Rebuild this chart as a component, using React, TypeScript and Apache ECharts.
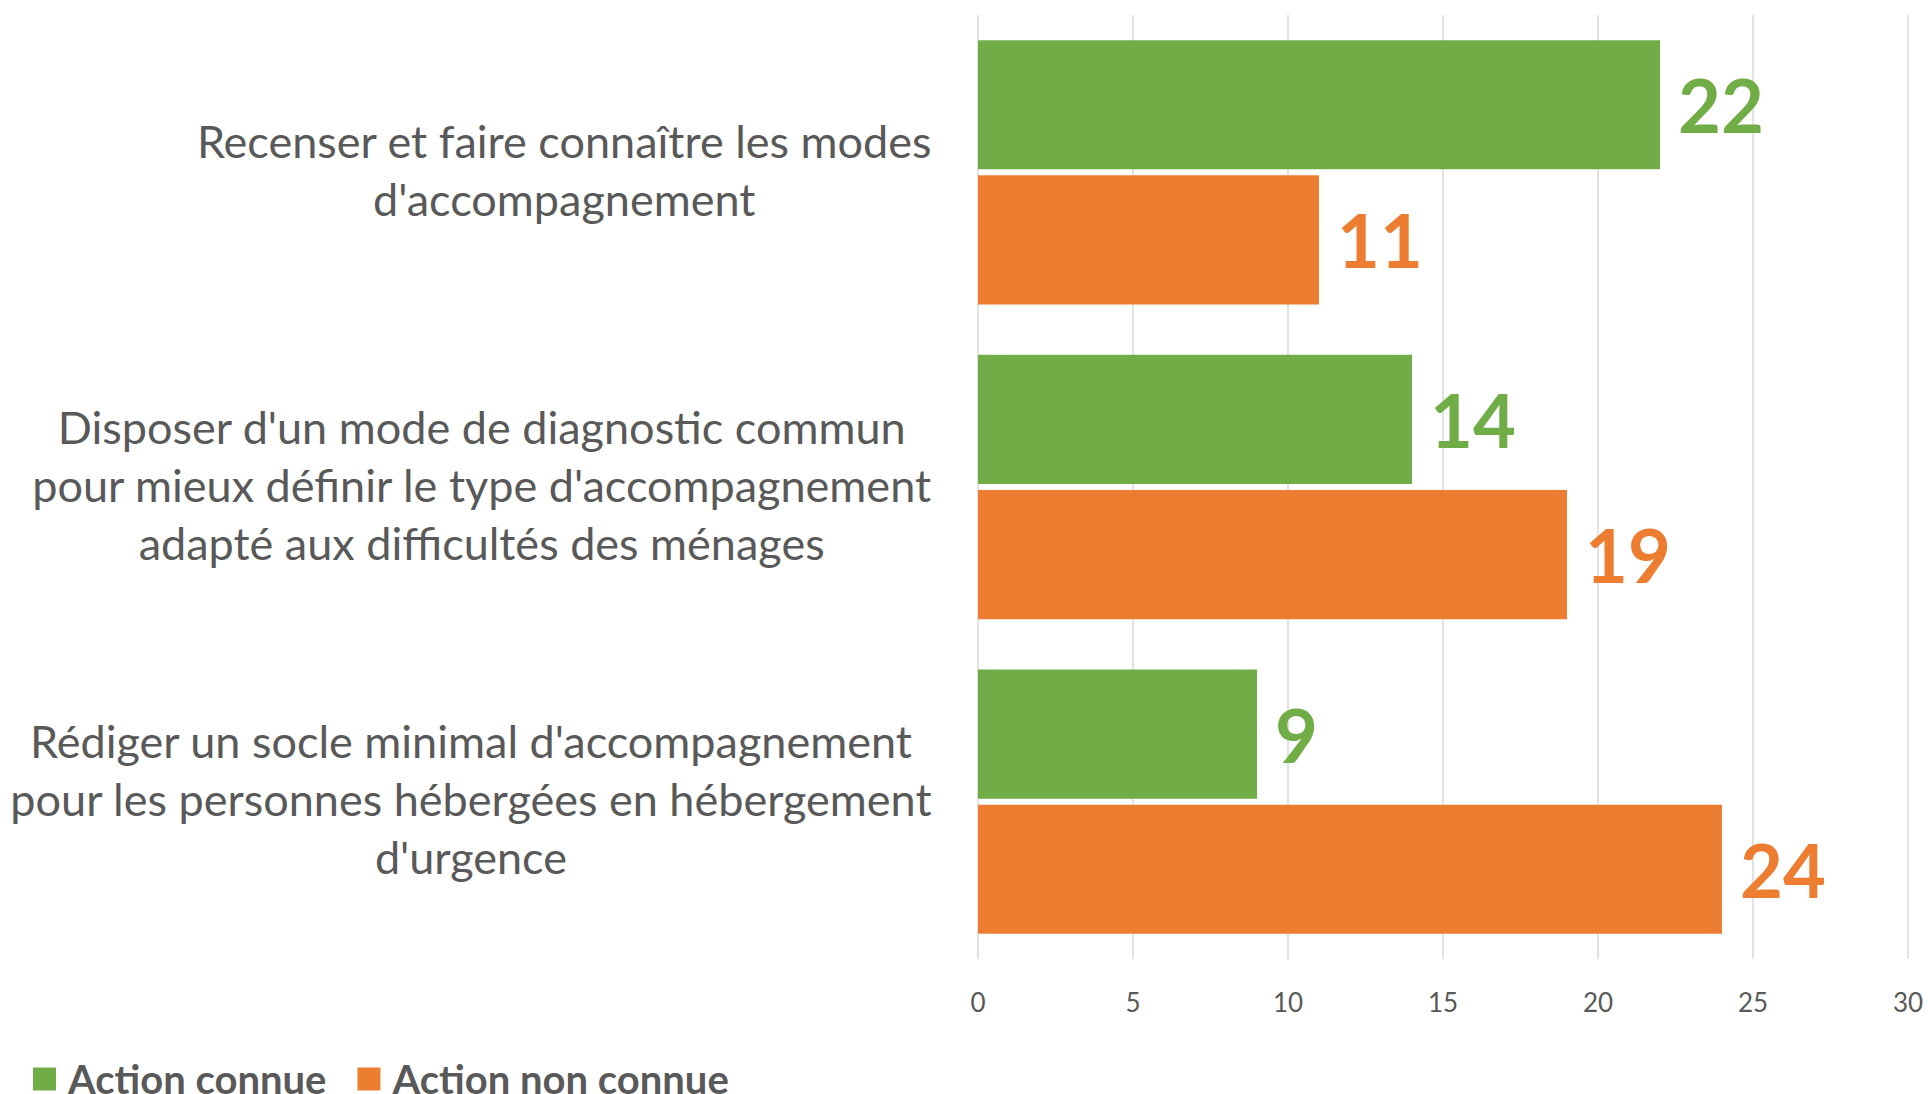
import React, { useEffect, useRef } from "react";
import * as echarts from "echarts";

const categories = [
  "Recenser et faire connaître les modes\nd'accompagnement",
  "Disposer d'un mode de diagnostic commun\npour mieux définir le type d'accompagnement\nadapté aux difficultés des ménages",
  "Rédiger un socle minimal d'accompagnement\npour les personnes hébergées en hébergement\nd'urgence",
];
const seriesNames = ["Action connue", "Action non connue"];
const actionConnue = [22, 14, 9];
const actionNonConnue = [11, 19, 24];
const colors = ["#70AD47", "#ED7D31"];
const FONT = "Lato, 'Open Sans', sans-serif";
const GREY = "#595959";

export default function App() {
  const ref = useRef<HTMLDivElement>(null);
  useEffect(() => {
    if (!ref.current) return;
    const chart = echarts.init(ref.current, null, { renderer: "svg" });
    const labelCfg = (color: string) => ({
      show: true,
      position: "right",
      distance: 18,
      fontSize: 74,
      fontWeight: "bold",
      fontFamily: FONT,
      color,
    });
    chart.setOption({
      animation: false,
      backgroundColor: "#ffffff",
      grid: {
        left: 978,
        right: 20,
        top: 15,
        bottom: 135,
        containLabel: false,
        outerBoundsMode: "none",
      },
      legend: {
        data: seriesNames,
        left: 28,
        top: 1054,
        icon: "rect",
        itemWidth: 23,
        itemHeight: 23,
        itemGap: 31,
        textStyle: {
          fontFamily: FONT,
          fontSize: 40,
          fontWeight: "bold",
          color: GREY,
          lineHeight: 40,
          padding: [0, 0, 0, 7],
        },
      },
      xAxis: {
        type: "value",
        min: 0,
        max: 30,
        interval: 5,
        axisLine: { show: false },
        axisTick: { show: false },
        splitLine: { show: true, lineStyle: { color: "#d9d9d9", width: 1.5 } },
        axisLabel: {
          fontFamily: FONT,
          fontSize: 26,
          color: GREY,
          margin: 30,
        },
      },
      yAxis: {
        type: "category",
        inverse: true,
        data: categories,
        axisLine: { show: false },
        axisTick: { show: false },
        axisLabel: {
          margin: 46,
          align: "right",
          fontFamily: FONT,
          fontSize: 45,
          color: GREY,
          lineHeight: 58,
          padding: [0, 0, 5, 0],
          formatter: (v: string) =>
            v
              .split("\n")
              .map((l) => "{c|" + l + "}")
              .join("\n"),
          rich: {
            c: {
              align: "center",
              fontFamily: FONT,
              fontSize: 45,
              color: GREY,
              lineHeight: 58,
            },
          },
        },
      },
      series: [
        {
          name: seriesNames[0],
          type: "bar",
          data: actionConnue,
          itemStyle: { color: colors[0] },
          barCategoryGap: "16%",
          barGap: "4.7%",
          label: labelCfg(colors[0]),
        },
        {
          name: seriesNames[1],
          type: "bar",
          data: actionNonConnue,
          itemStyle: { color: colors[1] },
          barCategoryGap: "16%",
          barGap: "4.7%",
          label: labelCfg(colors[1]),
        },
      ],
    });
    return () => chart.dispose();
  }, []);
  return (
    <div
      ref={ref}
      style={{ position: "fixed", left: 0, top: 0, width: 1928, height: 1094 }}
    />
  );
}
